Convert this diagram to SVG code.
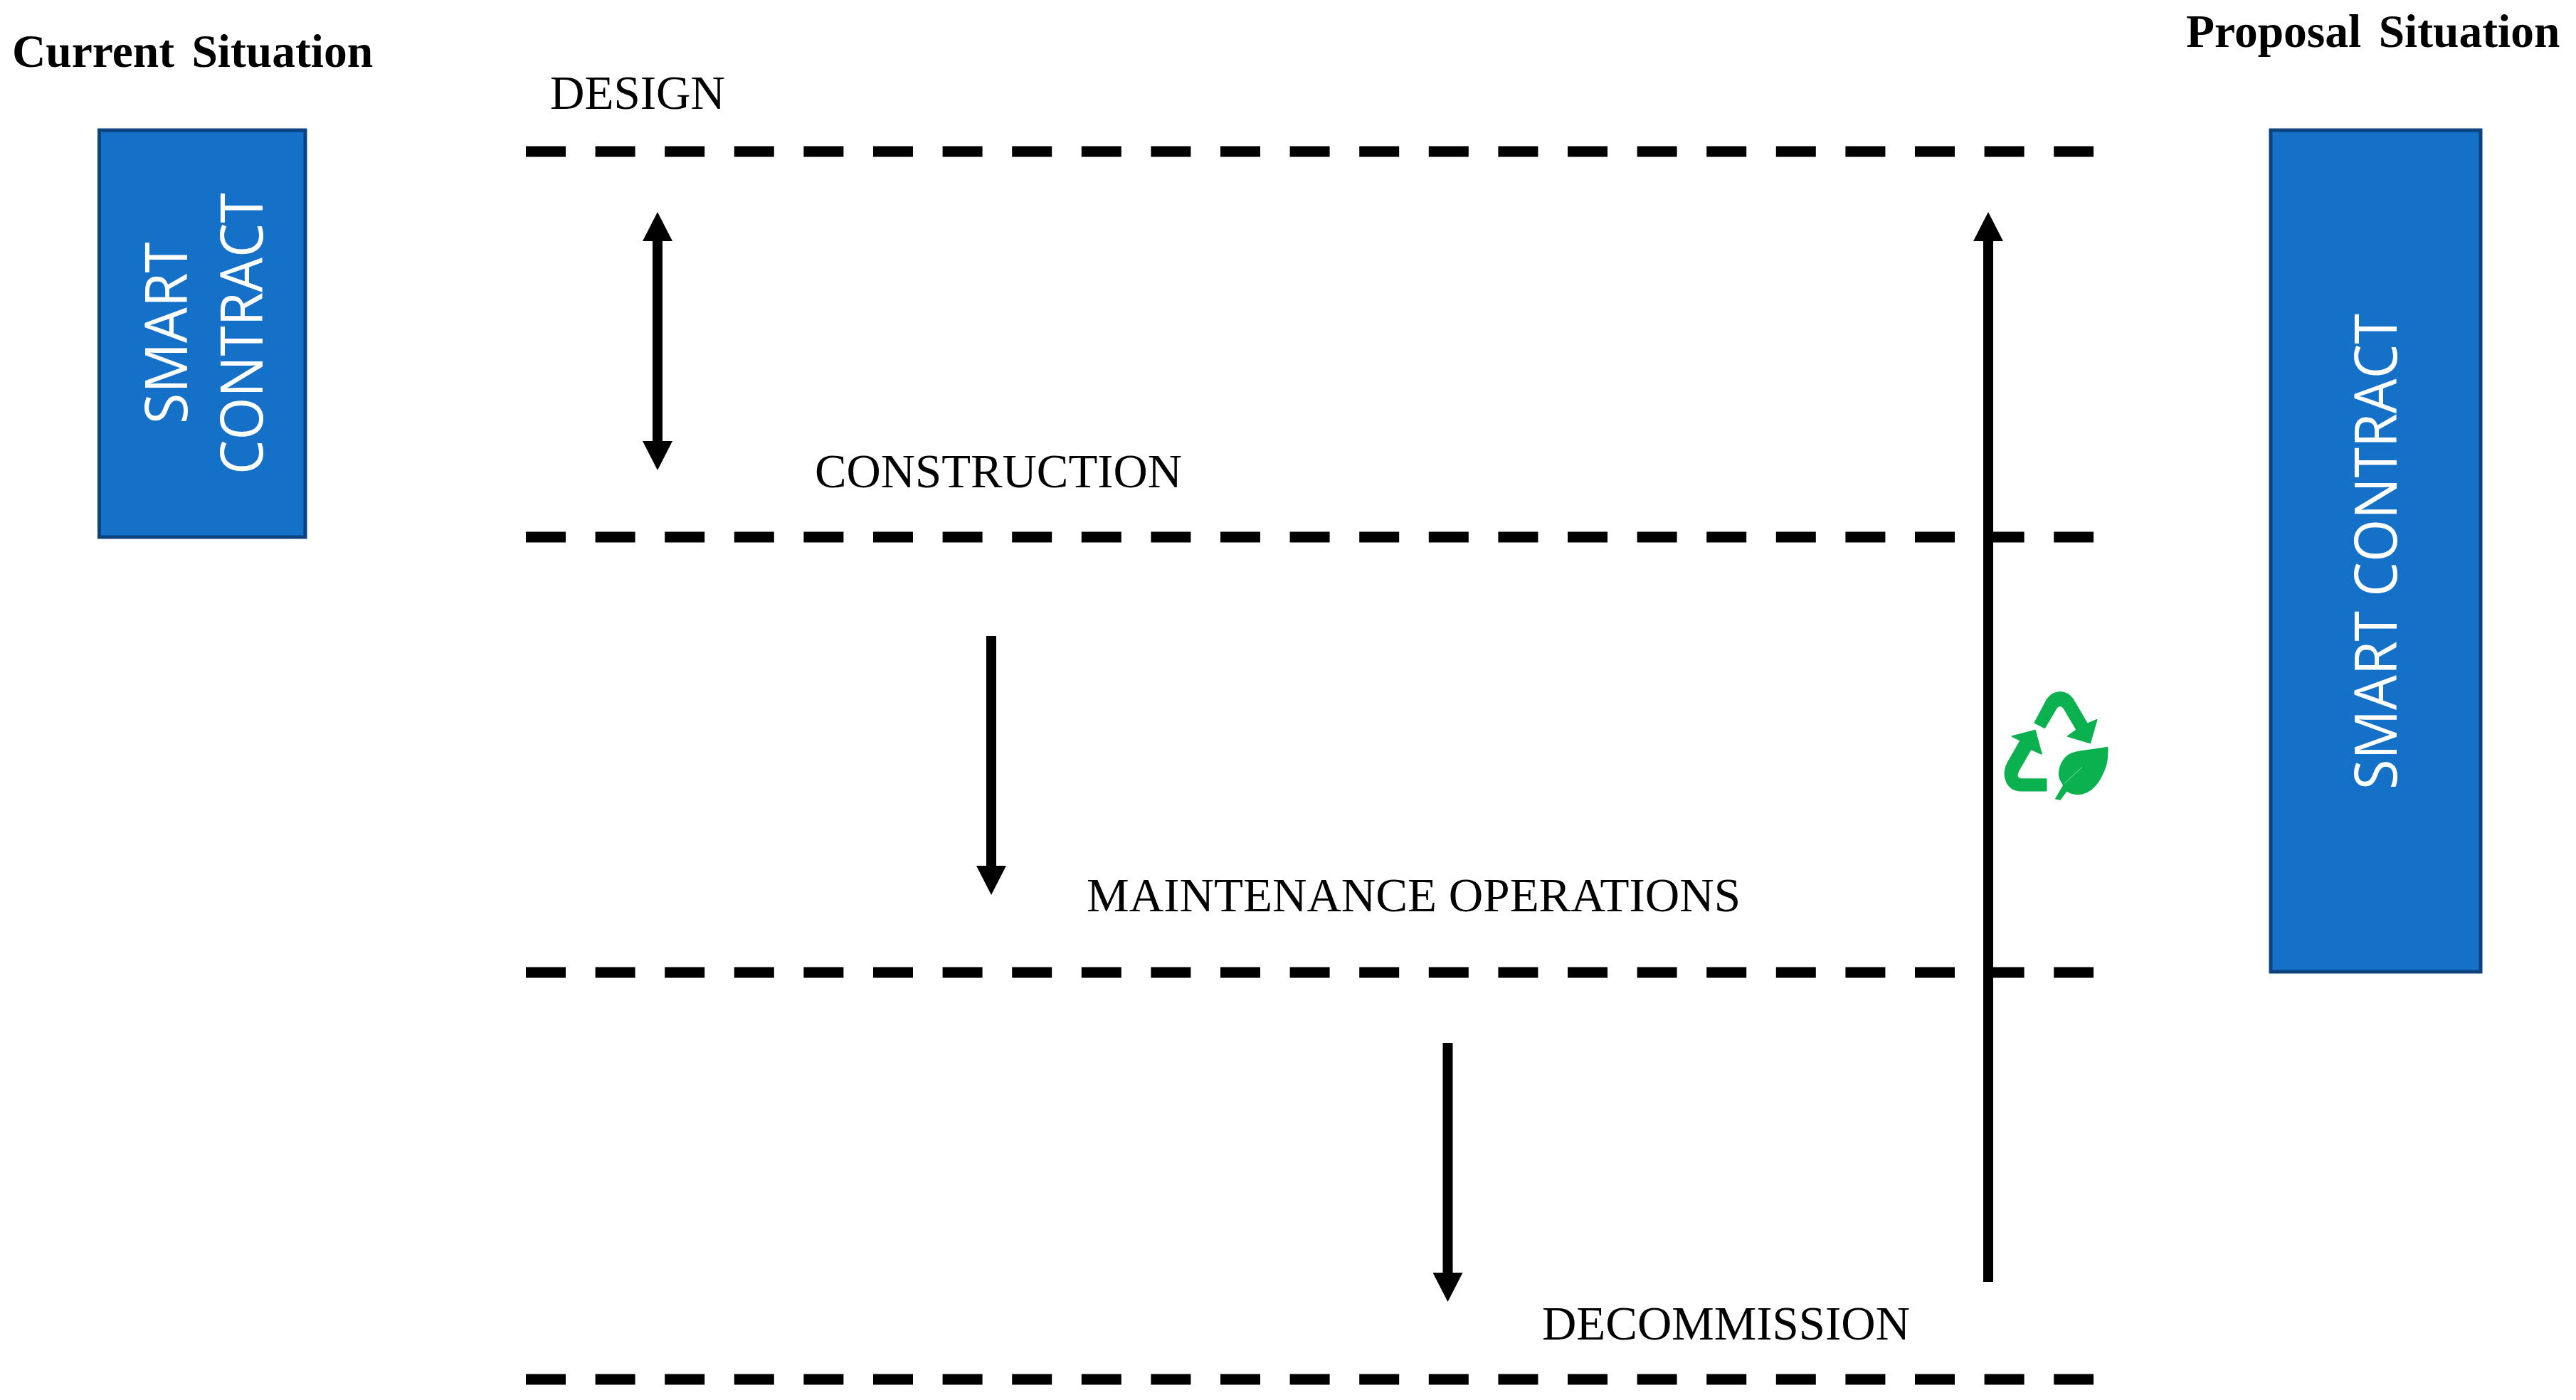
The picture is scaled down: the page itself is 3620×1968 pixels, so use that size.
<svg xmlns="http://www.w3.org/2000/svg" width="3620" height="1968" viewBox="0 0 3620 1968">
<style>
.box{fill:#1570c8;stroke:#0c437f;stroke-width:5}
.boxt{font-family:"Open Sans","Noto Sans",sans-serif;font-size:83px;fill:#fff}
.head{font-family:"Liberation Serif",serif;font-weight:bold;font-size:65.5px;word-spacing:8px;fill:#000}
.lab{font-family:"Liberation Serif",serif;font-size:67px;fill:#000}
.dash{stroke:#000;stroke-width:15;stroke-dasharray:56 41.6;fill:none}
.conn{stroke:#000;stroke-width:14;fill:none}
.green{fill:#0cb14f;stroke:#0cb14f;stroke-width:5;stroke-linejoin:round}
</style>
<defs>
<marker id="tip" markerUnits="userSpaceOnUse" markerWidth="42" markerHeight="42" refX="0" refY="21" orient="auto-start-reverse" viewBox="0 0 42 42"><path d="M0,0L41,21L0,42Z" fill="#000"/></marker>
</defs>
<rect width="3620" height="1968" fill="#fff"/>
<g id="title-current"><text class="head" x="17" y="94">Current Situation</text></g>
<g id="title-proposal"><text class="head" x="3072" y="66">Proposal Situation</text></g>
<g id="box-current">
<rect class="box" x="139.5" y="183" width="289.5" height="572"/>
<text class="boxt" transform="translate(263,596) rotate(-90)" textLength="256" lengthAdjust="spacingAndGlyphs">SMART</text>
<text class="boxt" transform="translate(369,667) rotate(-90)" textLength="396" lengthAdjust="spacingAndGlyphs">CONTRACT</text>
</g>
<g id="box-proposal">
<rect class="box" x="3191" y="183" width="295" height="1183"/>
<text class="boxt" transform="translate(3368,1110) rotate(-90)" textLength="669" lengthAdjust="spacingAndGlyphs">SMART CONTRACT</text>
</g>
<g id="stage-design"><text class="lab" x="773" y="153" textLength="246" lengthAdjust="spacingAndGlyphs">DESIGN</text></g>
<g id="stage-construction"><text class="lab" x="1145" y="685" textLength="516" lengthAdjust="spacingAndGlyphs">CONSTRUCTION</text></g>
<g id="stage-maintenance"><text class="lab" x="1527" y="1281" textLength="919" lengthAdjust="spacingAndGlyphs">MAINTENANCE OPERATIONS</text></g>
<g id="stage-decommission"><text class="lab" x="2167" y="1883" textLength="517" lengthAdjust="spacingAndGlyphs">DECOMMISSION</text></g>
<g id="connectors">
<path class="dash" d="M739,213H2942"/>
<path class="dash" d="M739,755H2942"/>
<path class="dash" d="M739,1367H2942"/>
<path class="dash" d="M739,1939H2942"/>
<path class="conn" d="M924,339V620" marker-start="url(#tip)" marker-end="url(#tip)"/>
<path class="conn" d="M1393,894V1217" marker-end="url(#tip)"/>
<path class="conn" d="M2034.5,1466V1789" marker-end="url(#tip)"/>
<path class="conn" d="M2794,1802V339" marker-end="url(#tip)"/>
</g>
<g id="recycle-icon" transform="translate(2700,900) scale(.33333)">
<path class="green" d="M478,348L520,370L570,285Q585,268 600,285L655,378L617,405L712,433L740,335L700,352L640,250C610,208 560,208 530,250Z"/>
<path class="green" d="M527,585H420Q395,580 410,550L462,460L507,480L480,380L382,405L418,423L365,515C335,570 360,635 420,635H527Z"/>
<path class="green" d="M785,452C720,465 650,465 620,485C585,510 575,560 585,585L600,612L567,668L585,672L612,635C650,660 710,655 750,590C785,530 785,500 785,452Z"/>
<path d="M604,603L678,535" stroke="#7fdcaa" stroke-width="3" fill="none"/>
</g>
</svg>
